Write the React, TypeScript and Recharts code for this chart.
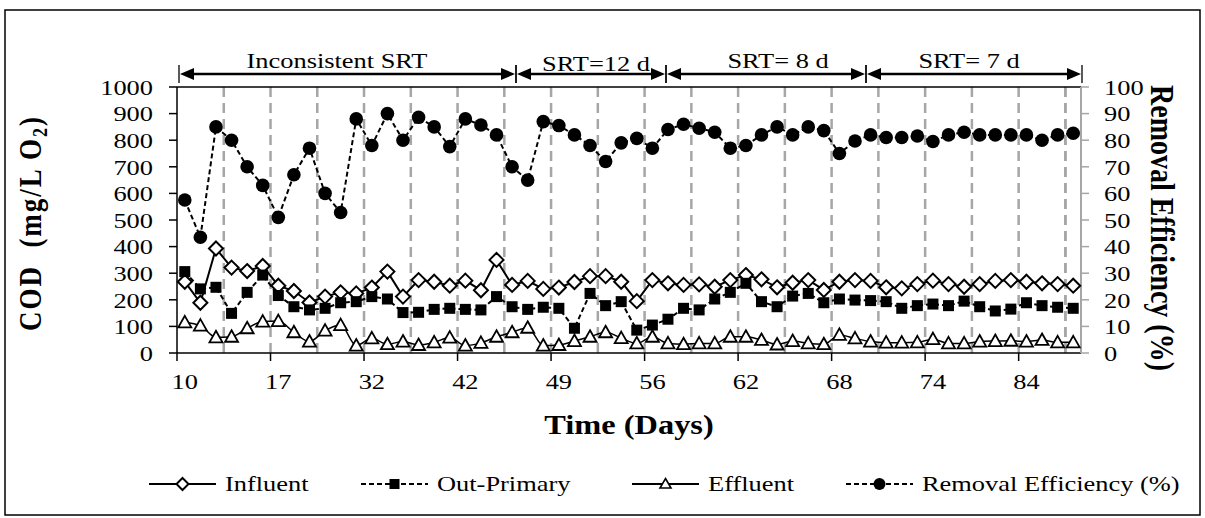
import { LineChart, Line, XAxis, YAxis, ReferenceLine } from 'recharts'

// sampling days (one per point), labels shown every 6th point
const days = [
  10, 11, 12, 13, 14, 15, 17, 19, 21, 23, 26, 29, 32, 34, 36, 38, 39, 40, 42, 43,
  44, 45, 46, 47, 49, 50, 51, 52, 53, 54, 56, 57, 58, 59, 60, 61, 62, 63, 64, 65,
  66, 67, 68, 69, 70, 71, 72, 73, 74, 76, 78, 79, 81, 82, 84, 85, 86, 87,
]

const influent = [
  268, 189, 393, 321, 308, 327, 253, 233, 190, 212, 228, 224, 246, 306, 212, 274, 268, 253, 272, 236,
  350, 256, 271, 241, 246, 267, 289, 289, 268, 195, 274, 262, 256, 258, 249, 274, 293, 277, 247, 264,
  274, 237, 268, 274, 271, 247, 243, 259, 272, 259, 249, 259, 271, 274, 268, 262, 259, 253,
]

const outPrimary = [
  306, 241, 247, 149, 228, 293, 216, 174, 162, 168, 189, 193, 212, 203, 152, 153, 164, 168, 164, 162,
  212, 174, 164, 172, 168, 93, 224, 178, 193, 86, 105, 127, 168, 162, 203, 228, 262, 193, 174, 214,
  224, 189, 203, 199, 197, 193, 168, 178, 184, 178, 195, 174, 158, 165, 189, 178, 172, 168,
]

const effluent = [
  115, 103, 59, 61, 93, 118, 120, 78, 43, 84, 105, 28, 55, 33, 43, 30, 40, 58, 28, 38,
  61, 78, 95, 28, 30, 45, 61, 78, 56, 36, 61, 36, 33, 36, 36, 61, 61, 49, 32, 45,
  36, 33, 68, 55, 43, 39, 39, 40, 52, 36, 36, 43, 45, 46, 43, 49, 40, 40,
]

const removal = [
  57.5, 43.5, 85, 80, 70, 63, 51, 67, 77, 60, 52.8, 88, 78, 90, 80, 88.6, 85, 77.6, 88, 85.7,
  82, 70, 65, 87, 85.5, 82, 78, 72, 79, 80.7, 77, 84, 86, 84.5, 83, 77, 78, 82, 85, 82,
  85, 83.6, 75, 79.7, 82, 81, 81, 81.6, 79.5, 82, 83, 82, 82, 82, 82, 80, 82, 82.6,
]

const codTicks = [0, 100, 200, 300, 400, 500, 600, 700, 800, 900, 1000]
const pctTicks = [0, 10, 20, 30, 40, 50, 60, 70, 80, 90, 100]

const srtLabels = ['Inconsistent SRT', 'SRT=12 d', 'SRT= 8 d', 'SRT= 7 d']
const legendNames = ['Influent', 'Out-Primary', 'Effluent', 'Removal Efficiency (%)']

const data = days.map((d, i) => ({
  idx: i,
  day: d,
  influent: influent[i],
  outPrimary: outPrimary[i],
  effluent: effluent[i],
  removal: removal[i],
}))

const W = 1205
const H = 518
const PLOT_L = 177
const PLOT_R = 1081
const FONT = '"Liberation Serif", "Times New Roman", serif'
const SX = 1.2 // the source picture is stretched sideways

const labelIdx = days.map((_, i) => i).filter((i) => i % 6 === 0)
const gridIdx = days.map((_, i) => i).filter((i) => i > 0 && i % 3 === 0).concat([days.length - 1])

function SText({ x, y, anchor = 'middle', size = 22, bold = false, dy, children }: any) {
  return (
    <text
      transform={`translate(${x},${y}) scale(${SX},1)`}
      textAnchor={anchor}
      dy={dy}
      fontSize={size}
      fontWeight={bold ? 'bold' : 'normal'}
      fontFamily={FONT}
      fill="#000"
    >
      {children}
    </text>
  )
}

function DayTick(props: any) {
  const { x, y, payload } = props
  const half = (PLOT_R - PLOT_L) / days.length / 2
  return (
    <g>
      <line x1={x - half} y1={y - 20} x2={x - half} y2={y - 12} stroke="#000" strokeWidth={1.5} />
      <SText x={x} y={y} dy="0.71em">
        {days[payload.value]}
      </SText>
    </g>
  )
}

const LeftTick = (p: any) => (
  <SText x={p.x} y={p.y} anchor="end" dy="0.355em">
    {p.payload.value}
  </SText>
)
const RightTick = (p: any) => (
  <SText x={p.x} y={p.y} anchor="start" dy="0.355em">
    {p.payload.value}
  </SText>
)

const Diamond = (p: any) => (
  <polygon
    key={`di-${p.index}`}
    points={`${p.cx},${p.cy - 7} ${p.cx + 7},${p.cy} ${p.cx},${p.cy + 7} ${p.cx - 7},${p.cy}`}
    fill="#fff"
    stroke="#000"
    strokeWidth={2}
  />
)
const Square = (p: any) => (
  <rect key={`sq-${p.index}`} x={p.cx - 5.5} y={p.cy - 5.5} width={11} height={11} fill="#000" />
)
const Triangle = (p: any) => (
  <polygon
    key={`tr-${p.index}`}
    points={`${p.cx},${p.cy - 6.5} ${p.cx + 6.5},${p.cy + 5} ${p.cx - 6.5},${p.cy + 5}`}
    fill="#fff"
    stroke="#000"
    strokeWidth={1.8}
  />
)
const Circle = (p: any) => <circle key={`ci-${p.index}`} cx={p.cx} cy={p.cy} r={6.8} fill="#000" />

function DoubleArrow({ x1, x2, y }: { x1: number; x2: number; y: number }) {
  return (
    <g>
      <line x1={x1 + 10} y1={y} x2={x2 - 10} y2={y} stroke="#000" strokeWidth={2.5} />
      <polygon points={`${x1 + 1},${y} ${x1 + 15},${y - 6} ${x1 + 15},${y + 6}`} fill="#000" />
      <polygon points={`${x2 - 1},${y} ${x2 - 15},${y - 6} ${x2 - 15},${y + 6}`} fill="#000" />
      <line x1={x1} y1={y - 9} x2={x1} y2={y + 9} stroke="#000" strokeWidth={1.3} />
      <line x1={x2} y1={y - 9} x2={x2} y2={y + 9} stroke="#000" strokeWidth={1.3} />
    </g>
  )
}

// arrow spans and label spots for the SRT periods (pixels)
const srtSpans = [
  [179, 516],
  [516, 666],
  [666, 866],
  [866, 1082],
]
const srtText = [
  [337, 68],
  [596, 71],
  [778, 68],
  [969, 68],
]

const legendLeft = [149, 361, 632, 846]

function LegendIcon({ kind }: { kind: number }) {
  const dashed = kind === 1 || kind === 3
  return (
    <svg width={67} height={20} style={{ display: 'block' }}>
      <line x1={0} y1={10} x2={67} y2={10} stroke="#000" strokeWidth={2} strokeDasharray={dashed ? '5 3' : undefined} />
      {kind === 0 && <polygon points="33.5,4 39.5,10 33.5,16 27.5,10" fill="#fff" stroke="#000" strokeWidth={2} />}
      {kind === 1 && <rect x={28.5} y={5} width={10} height={10} fill="#000" />}
      {kind === 2 && <polygon points="33.5,4.5 39,14 28,14" fill="#fff" stroke="#000" strokeWidth={1.6} />}
      {kind === 3 && <circle cx={33.5} cy={10} r={6} fill="#000" />}
    </svg>
  )
}

export default function App() {
  return (
    <div style={{ position: 'absolute', left: 0, top: 0, width: W, height: H, background: '#fff', fontFamily: FONT }}>
      <LineChart
        width={W}
        height={H}
        data={data}
        margin={{ top: 87, right: 44, bottom: 135, left: 97 }}
      >
        <XAxis
          dataKey="idx"
          type="number"
          domain={[-0.5, days.length - 0.5]}
          ticks={labelIdx}
          interval={0}
          tick={<DayTick />}
          tickLine={false}
          tickSize={8}
          tickMargin={12}
          axisLine={{ stroke: '#000', strokeWidth: 1.5 }}
          height={30}
        />
        <YAxis
          yAxisId="left"
          domain={[0, 1000]}
          ticks={codTicks}
          interval={0}
          width={80}
          tickSize={8}
          tickMargin={16}
          tick={<LeftTick />}
          axisLine={{ stroke: '#000', strokeWidth: 1.5 }}
          tickLine={{ stroke: '#000', strokeWidth: 1.5 }}
        />
        <YAxis
          yAxisId="right"
          orientation="right"
          domain={[0, 100]}
          ticks={pctTicks}
          interval={0}
          width={80}
          tickSize={8}
          tickMargin={15}
          tick={<RightTick />}
          axisLine={{ stroke: '#a6a6a6', strokeWidth: 2 }}
          tickLine={{ stroke: '#a6a6a6', strokeWidth: 1.5 }}
        />
        {gridIdx.map((i) => (
          <ReferenceLine
            key={`g-${i}`}
            yAxisId="left"
            x={i - 0.5}
            stroke="#a6a6a6"
            strokeWidth={2.5}
            strokeDasharray="10 6"
          />
        ))}
        <ReferenceLine yAxisId="left" y={1000} stroke="#000" strokeWidth={1.5} />
        <Line
          yAxisId="left"
          dataKey="influent"
          stroke="#000"
          strokeWidth={2}
          dot={Diamond}
          activeDot={false}
          isAnimationActive={false}
        />
        <Line
          yAxisId="left"
          dataKey="outPrimary"
          stroke="#000"
          strokeWidth={2}
          strokeDasharray="5 3"
          dot={Square}
          activeDot={false}
          isAnimationActive={false}
        />
        <Line
          yAxisId="left"
          type="monotone"
          dataKey="effluent"
          stroke="#000"
          strokeWidth={1.5}
          dot={Triangle}
          activeDot={false}
          isAnimationActive={false}
        />
        <Line
          yAxisId="right"
          dataKey="removal"
          stroke="#000"
          strokeWidth={2}
          strokeDasharray="5 3"
          dot={Circle}
          activeDot={false}
          isAnimationActive={false}
        />
      </LineChart>

      <svg
        width={W}
        height={H}
        style={{ position: 'absolute', left: 0, top: 0, pointerEvents: 'none' }}
        fontFamily={FONT}
      >
        <rect x={5} y={10} width={1195} height={505} fill="none" stroke="#000" strokeWidth={1.5} />
        {srtSpans.map(([a, b], i) => (
          <DoubleArrow key={`a-${i}`} x1={a} x2={b} y={74} />
        ))}
        {srtLabels.map((t, i) => (
          <SText key={`s-${i}`} x={srtText[i][0]} y={srtText[i][1]}>
            {t}
          </SText>
        ))}
        <text
          transform={`translate(41,223) rotate(-90) scale(1,${SX})`}
          textAnchor="middle"
          fontSize={27}
          fontWeight="bold"
          letterSpacing={2}
          fill="#000"
          style={{ whiteSpace: 'pre' }}
        >
          {'COD  (mg/L O'}
          <tspan dy={5} fontSize={18}>2</tspan>
          <tspan dy={-5}>)</tspan>
        </text>
        <text
          transform={`translate(1151,228) rotate(90) scale(1,${SX})`}
          textAnchor="middle"
          fontSize={28}
          fontWeight="bold"
          fill="#000"
        >
          Removal Efficiency (%)
        </text>
        <SText x={629} y={434} size={27} bold>
          Time (Days)
        </SText>
      </svg>

      {legendNames.map((name, i) => (
        <div
          key={name}
          style={{
            position: 'absolute',
            left: legendLeft[i],
            top: 472,
            display: 'flex',
            alignItems: 'center',
            fontSize: 22,
            lineHeight: '24px',
            color: '#000',
            whiteSpace: 'nowrap',
          }}
        >
          <LegendIcon kind={i} />
          <span style={{ marginLeft: 9, display: 'inline-block', transform: `scaleX(${SX})`, transformOrigin: 'left center' }}>
            {name}
          </span>
        </div>
      ))}
    </div>
  )
}
